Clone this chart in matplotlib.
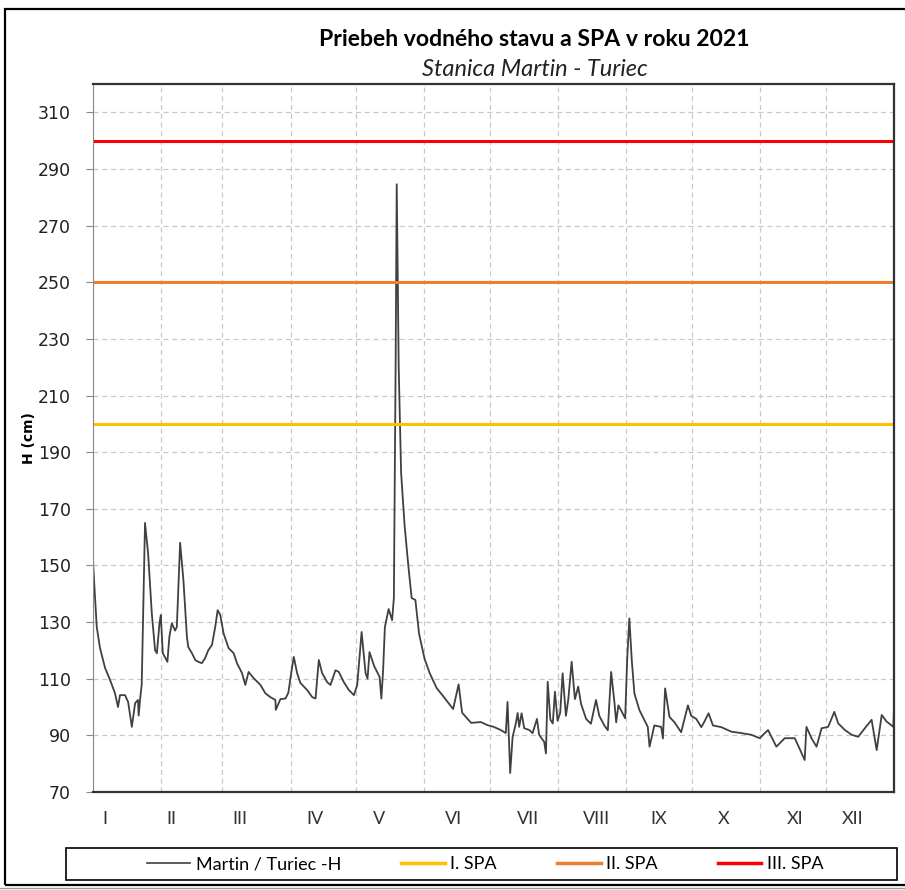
import matplotlib
matplotlib.use('Agg')
import matplotlib.pyplot as plt
from matplotlib.patches import Rectangle
from matplotlib.lines import Line2D

plt.rcParams['font.family'] = ['Lato', 'DejaVu Sans']

# day of year (0 = 1 Jan) and water level H in cm
day = [0.1, 1.7, 3.2, 5.5, 7.8, 10.0, 11.4, 12.3, 14.6, 16.0, 17.7, 19.2, 20.5, 20.8, 21.5,
       22.2, 23.7, 25.1, 26.8, 28.3, 29.1, 30.3, 30.9, 31.8, 33.9, 34.8, 35.9, 37.4, 38.2,
       39.7, 41.2, 42.8, 43.4, 45.1, 46.6, 47.9, 49.6, 51.1, 52.5, 54.2, 55.7, 56.8, 58.0,
       59.5, 61.8, 64.1, 65.6, 67.9, 69.4, 70.9, 73.2, 76.3, 78.5, 80.8, 83.1, 83.3, 85.4,
       87.7, 89.0, 90.7, 91.5, 93.0, 94.5, 97.6, 99.9, 101.4, 102.9, 104.4, 106.7, 108.2,
       110.5, 112.0, 114.3, 116.6, 118.9, 120.4, 122.4, 124.2, 125.1, 126.0, 128.1, 130.6,
       131.4, 132.2, 133.0, 134.7, 136.3, 137.1, 137.9, 138.4, 139.3, 140.4, 142.0, 143.7,
       145.2, 146.9, 148.6, 151.1, 153.4, 156.6, 159.2, 164.1, 166.6, 168.2, 172.3, 176.7,
       179.8, 182.6, 185.8, 188.1, 188.9, 190.1, 191.2, 192.7, 193.5, 194.2, 195.3, 196.5,
       198.8, 200.3, 202.3, 203.3, 205.6, 206.4, 207.2, 208.4, 209.5, 210.5, 211.7, 212.9,
       214.0, 215.5, 216.6, 218.1, 219.6, 221.1, 222.4, 224.7, 226.9, 229.2, 230.7, 233.0,
       234.6, 236.1, 237.6, 238.4, 239.4, 240.6, 242.5, 243.4, 244.4, 245.5, 246.7, 249.0,
       251.3, 252.8, 253.6, 255.8, 258.9, 259.7, 260.7, 262.7, 265.0, 268.0, 271.1, 272.6,
       274.9, 277.2, 278.5, 280.5, 282.5, 286.3, 290.9, 295.4, 300.0, 303.8, 307.6, 311.4,
       315.2, 319.8, 324.3, 325.1, 327.4, 329.7, 332.0, 335.0, 337.8, 339.6, 342.6, 345.7,
       348.7, 351.7, 354.8, 357.1, 359.4, 361.6, 364.7, 365.0]
level = [150, 128.3, 120.8, 113.8, 109.5, 104.9, 100, 104.2, 104.2, 101.8, 93, 101.4, 102.5, 97, 103,
         108, 165, 154.4, 133, 120, 119, 129.6, 132.5, 119, 116, 124.8, 129.6, 127, 128.3,
         158, 144.8, 124.8, 121.2, 119, 116.6, 116, 115.5, 117.3, 120, 121.9, 128.3, 134.2, 132.5,
         126, 120.8, 119, 115.5, 112, 107.8, 112.4, 110.2, 107.8, 104.9, 103.5, 102.5, 99, 102.8,
         103, 105, 114, 117.7, 112, 108.5, 106, 103.5, 103, 116.6, 112, 108.8, 107.8,
         113, 112.4, 108.8, 106, 104.2, 107.8, 126.5, 112, 110, 119.4, 114.5, 110.6,
         103, 113, 128.2, 134.6, 130.7, 138.5, 220.7, 284.6, 220, 182.7, 164, 149.8,
         138.5, 137.8, 125.8, 117, 112, 106.7, 104.2, 99.3, 108, 98, 94.4, 94.7,
         93.6, 93, 91.9, 90.8, 101.8, 76.7, 89.4, 94.3, 97.9, 93, 97.8, 92.5,
         91.9, 90.8, 95.8, 90.2, 87.7, 83.6, 108.9, 95.6, 94.2, 105.4, 95.2, 98,
         111.9, 96.9, 102.8, 116, 102.8, 107.2, 101.1, 95.8, 94.1, 102.5, 96.9, 93.5,
         91.8, 112.4, 101.7, 94.6, 100.6, 98.9, 96, 116.6, 131.3, 116.6, 104.8, 98.9,
         95.3, 93, 86, 93.5, 93, 88.9, 106.6, 96.5, 94.6, 91.1, 100.6, 96.9,
         95.8, 92.9, 94.7, 97.8, 93.5, 92.9, 91.3, 90.8, 90.2, 89, 91.9, 86,
         89, 89, 81.3, 93, 89, 86, 92.5, 93, 98.3, 94.2, 91.9, 90.2,
         89.5, 92.5, 95.5, 84.8, 97.2, 94.9, 93, 99.6]

spa_names = ['I. SPA', 'II. SPA', 'III. SPA']
spa_levels = [200, 250, 300]
spa_colors = ['#FFC000', '#ED7D31', '#FF0000']

month_starts = [0, 31, 59, 90, 120, 151, 181, 212, 243, 273, 304, 334]
month_labels = ['I', 'II', 'III', 'IV', 'V', 'VI', 'VII', 'VIII', 'IX', 'X', 'XI', 'XII']
label_pos = [5.5, 35.5, 67, 101, 130.5, 164.5, 198, 229.6, 258, 287.5, 320, 346]

fig = plt.figure(figsize=(9.05, 8.9), dpi=100)
ax = fig.add_axes([93/905, 98/890, 801/905, 708/890])

ax.plot(day, level, color='#404040', lw=1.3, label='Martin / Turiec -H')
for name, lvl, col in zip(spa_names, spa_levels, spa_colors):
    ax.axhline(lvl, color=col, lw=2.2, label=name)

ax.set_xlim(0, 365)
ax.set_ylim(70, 320)
ax.set_yticks(range(70, 320, 20))
ax.set_xticks(month_starts)
ax.set_xticklabels([])
ax.set_xticks(label_pos, minor=True)
ax.set_xticklabels(month_labels, minor=True, fontsize=13, color='#333333')
ax.tick_params(axis='x', which='both', length=0, pad=14)
ax.tick_params(axis='y', length=5, color='#888888', labelsize=12.5, labelcolor='#222222', pad=11)
for lab in ax.get_yticklabels():
    lab.set_family('DejaVu Sans')
ax.grid(True, which='major', color='#c8c8c8', ls=(0, (4, 3)), lw=0.9)
ax.set_axisbelow(True)

ax.spines['left'].set_color('#888888')
ax.spines['bottom'].set_color('#333333')
ax.spines['bottom'].set_linewidth(1.6)
for s in ['top', 'right']:
    ax.spines[s].set_color('#333333')
    ax.spines[s].set_linewidth(1.6)

ax.set_ylabel('H (cm)', fontsize=10, fontweight='bold', family='DejaVu Sans', labelpad=1)

fig.text(534/905, 1 - 40/890, 'Priebeh vodného stavu a SPA v roku 2021', ha='center', va='center',
         fontsize=16.6, fontweight='bold')
fig.text(535/905, 1 - 69/890, 'Stanica Martin - Turiec', ha='center', va='center',
         fontsize=17, style='italic', color='#222222')

# legend box spanning the width, entries centred inside
fig.patches.append(Rectangle((66/905, 10/890), 831/905, 32/890, transform=fig.transFigure,
                             fill=False, edgecolor='black', lw=1.2))
handles = [Line2D([], [], color='#404040', lw=1.2)] + \
          [Line2D([], [], color=c, lw=2.5) for c in spa_colors]
labels = ['Martin / Turiec -H'] + spa_names
fig.legend(handles, labels, loc='center', ncol=4, bbox_to_anchor=(485/905, 26/890),
           fontsize=13, frameon=False, handlelength=2.4, handletextpad=0.3,
           columnspacing=3.35, borderaxespad=0)

# outer chart border (cut on the right as in the source)
fig.patches.append(Rectangle((5/905, 5/890), 1.2, 876/890, transform=fig.transFigure,
                             fill=False, edgecolor='black', lw=1.6))
fig.lines.append(Line2D([0, 1], [2/890, 2/890], transform=fig.transFigure, color='#999999', lw=1))

fig.savefig('out.png', dpi=100)
